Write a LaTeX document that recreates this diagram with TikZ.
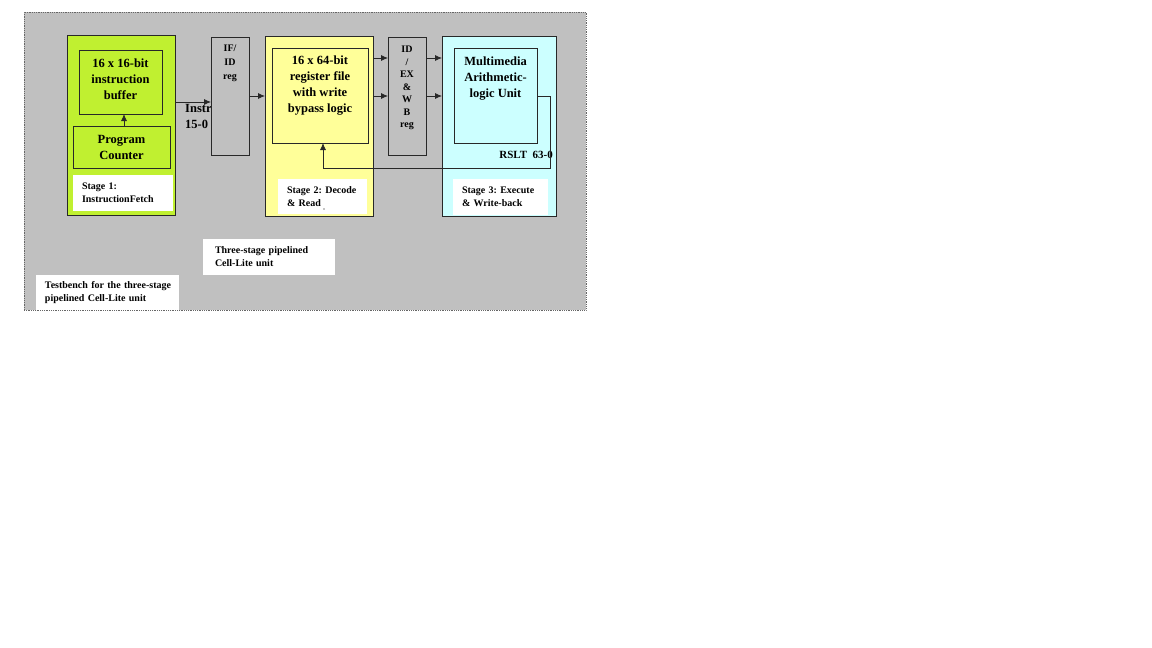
\documentclass[tikz,border=0pt]{standalone}
\usepackage{fontspec}
\setmainfont{Liberation Serif}
\usetikzlibrary{arrows.meta}
\definecolor{bggrey}{RGB}{192,192,192}
\definecolor{limeg}{RGB}{192,240,48}
\definecolor{paleyel}{RGB}{255,255,153}
\definecolor{palecyan}{RGB}{204,255,255}
\definecolor{edge}{RGB}{40,40,40}
\frenchspacing
\begin{document}
\begin{tikzpicture}[x=1pt,y=-1pt,
  blk/.style={draw=edge, line width=0.8pt, inner sep=0pt, outer sep=0pt},
  mtxt/.style={font=\fontsize{12.5}{16}\selectfont\bfseries, align=center, inner sep=0pt},
  rtxt/.style={font=\fontsize{10}{14}\selectfont\bfseries, align=center, inner sep=0pt},
  lab/.style={fill=white, inner xsep=9pt, inner ysep=0pt, align=left, outer sep=0pt,
              font=\fontsize{10}{13}\selectfont\bfseries},
  arr/.style={draw=edge, line width=0.8pt, -{Latex[length=7pt,width=6pt]}},
  wire/.style={draw=edge, line width=0.8pt}
]
\useasboundingbox[fill=white] (0,0) rectangle (1152,648);

% outer testbench area
\node[fill=bggrey, draw=black!60, densely dotted, line width=0.8pt, minimum width=562pt, minimum height=298pt, inner sep=0pt] (outer) at (305,161) {};

% labels under boxes (drawn first)
\node[mtxt, anchor=north west, align=left] (instr) at (185,104) {Instr\\15-0};

% Stage 1
\node[blk, fill=limeg, minimum width=108pt, minimum height=180pt] (s1) at (121,125) {};
\node[blk, fill=limeg, minimum width=83pt, minimum height=64pt] (buf) at (120.5,82) {};
\node[mtxt] (buftxt) at ([yshift=3pt]buf.center) {16 x 16-bit\\instruction\\buffer};
\node[blk, fill=limeg, minimum width=97pt, minimum height=42pt, mtxt] (pc) at (121.5,147) {Program\\Counter};
\node[lab, text width=82pt, minimum height=36pt] (s1lab) at (123,193) {Stage 1:\\InstructionFetch};

% IF/ID reg
\node[blk, fill=bggrey, minimum width=38pt, minimum height=118pt] (ifid) at (230,96) {};
\node[rtxt, anchor=north] (ifidtxt) at ([yshift=-8pt]ifid.north) {IF/\\ID\\reg};

% Stage 2
\node[blk, fill=paleyel, minimum width=108pt, minimum height=180pt] (s2) at (319,126) {};
\node[blk, fill=paleyel, minimum width=96pt, minimum height=95pt] (rf) at (320,95.5) {};
\node[mtxt, anchor=north] (rftxt) at ([yshift=-8pt]rf.north) {16 x 64-bit\\register file\\with write\\bypass logic};
\node[lab, text width=71pt, minimum height=35pt] (s2lab) at (322.5,196.5) {Stage 2: Decode\\\& Read};
\fill[black] (324,209) circle (0.6pt);

% ID/EX & WB reg
\node[blk, fill=bggrey, minimum width=38pt, minimum height=118pt] (idex) at (407,96) {};
\node[font=\fontsize{10}{12.5}\selectfont\bfseries, align=center, inner sep=0pt, anchor=north] (idextxt) at ([yshift=-9pt]idex.north) {ID\\/\\EX\\\&\\W\\B\\reg};

% Stage 3
\node[blk, fill=palecyan, minimum width=114pt, minimum height=180pt] (s3) at (499,126) {};
\node[blk, fill=palecyan, minimum width=83pt, minimum height=95pt] (alu) at (495.5,95.5) {};
\node[mtxt, anchor=north] (alutxt) at ([yshift=-9pt]alu.north) {Multimedia\\Arithmetic-\\logic Unit};
\node[lab, text width=77pt, minimum height=36pt] (s3lab) at (500.5,197) {Stage 3: Execute\\\& Write-back};
\node[font=\fontsize{11}{12}\selectfont\bfseries, inner sep=0pt, anchor=east] (rslt) at (553,155) {RSLT\ \ 63-0};

% captions
\node[lab, inner xsep=12pt, text width=108pt, minimum height=36pt] (three) at (269,257) {Three-stage pipelined\\Cell-Lite unit};
\node[lab, text width=125pt, minimum height=35pt] (tb) at (107.5,292.5) {\mbox{Testbench for the three-stage}\\pipelined Cell-Lite unit};

% level coordinates
\coordinate (yA) at (0,58);
\coordinate (yB) at (0,96);
\coordinate (yI) at (0,102);
\coordinate (fb1) at (550,96);
\coordinate (fb2) at (550,168);
\coordinate (fb3) at (323,168);

% connectors
\draw[arr] (pc.north -| 124,0) -- (buf.south -| 124,0);
\draw[arr] (s1.east |- yI) -- (ifid.west |- yI);
\draw[arr] (ifid.east |- yB) -- (s2.west |- yB);
\draw[arr] (s2.east |- yA) -- (idex.west |- yA);
\draw[arr] (s2.east |- yB) -- (idex.west |- yB);
\draw[arr] (idex.east |- yA) -- (s3.west |- yA);
\draw[arr] (idex.east |- yB) -- (s3.west |- yB);
\draw[arr] (alu.east |- fb1) -- (fb1) -- (fb2) -- (fb3) -- (rf.south -| fb3);
\end{tikzpicture}
\end{document}
